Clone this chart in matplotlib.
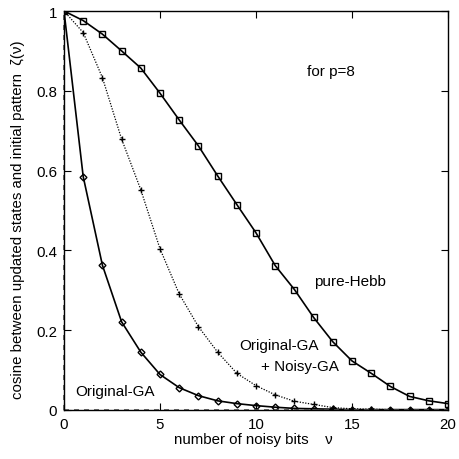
import numpy as np
import matplotlib.pyplot as plt

plt.rcParams['font.family'] = ['Liberation Sans', 'DejaVu Sans']

noisy_bits = list(range(21))

pure_hebb = [1.0, 0.976, 0.942, 0.900, 0.857, 0.794, 0.727, 0.662, 0.587, 0.515,
             0.444, 0.362, 0.302, 0.232, 0.171, 0.123, 0.092, 0.059, 0.034, 0.023, 0.016]
orig_noisy_ga = [1.0, 0.946, 0.833, 0.679, 0.552, 0.404, 0.291, 0.209, 0.145, 0.092,
                 0.061, 0.038, 0.022, 0.014, 0.006, 0.003, 0.002, 0.001, 0.001, 0.001, 0.001]
orig_ga = [1.0, 0.585, 0.363, 0.221, 0.145, 0.089, 0.056, 0.036, 0.023, 0.016,
           0.011, 0.007, 0.004, 0.003, 0.002, 0.001, 0.001, 0.001, 0.001, 0.001, 0.001]

fig = plt.figure(figsize=(4.59, 4.60), dpi=100)
ax = fig.add_axes([64/459, 1 - 411/460, 384/459, 399/460])

ax.plot(noisy_bits, pure_hebb, color='black', lw=1.2, marker='s', ms=5,
        mfc='none', mec='black', mew=1.0)
ax.plot(noisy_bits, orig_noisy_ga, color='black', lw=0.9, ls=(0, (1, 1.2)),
        marker='+', ms=4.5, mew=1.0)
ax.plot(noisy_bits, orig_ga, color='black', lw=1.2, marker='D', ms=3.5,
        mfc='none', mec='black', mew=1.0)

ax.set_xlim(0, 20)
ax.set_ylim(0, 1)
ax.set_xticks([0, 5, 10, 15, 20])
ax.set_yticks([0, 0.2, 0.4, 0.6, 0.8, 1])
ax.set_yticklabels(['0', '0.2', '0.4', '0.6', '0.8', '1'])
ax.tick_params(direction='in', top=True, right=True, length=5, width=0.8,
               labelsize=10.8, pad=5)
for s in ax.spines.values():
    s.set_linewidth(1.0)

# dashed overlay along the zero lines
ax.plot([0, 20], [0, 0], color='#555555', lw=1.2, ls=(0, (3, 3)), clip_on=False)
ax.plot([0, 0], [0, 1], color='#555555', lw=1.2, ls=(0, (3, 3)), clip_on=False)

ax.text(13.9, 0.850, 'for p=8', fontsize=11, ha='center', va='center')
ax.text(14.9, 0.324, 'pure-Hebb', fontsize=11, ha='center', va='center')
ax.text(11.2, 0.163, 'Original-GA', fontsize=11, ha='center', va='center')
ax.text(12.3, 0.110, '+ Noisy-GA', fontsize=11, ha='center', va='center')
ax.text(2.65, 0.048, 'Original-GA', fontsize=11, ha='center', va='center')

fig.text(253/459, 1 - 440/460, 'number of noisy bits    \u03bd', fontsize=10.8,
         ha='center', va='center')
fig.text(18/459, 1 - 220/460, 'cosine between updated states and initial pattern  \u03b6(\u03bd)',
         fontsize=10.8, ha='center', va='center', rotation=90)

fig.savefig('out.png', dpi=100)
